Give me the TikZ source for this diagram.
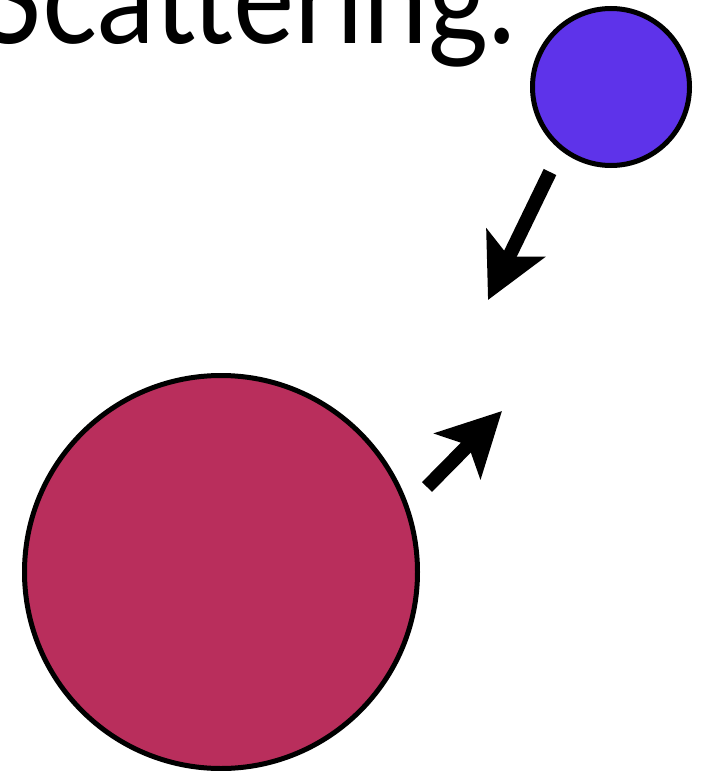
\documentclass[tikz,border=0pt]{standalone}
\usepackage{fontspec}
\setmainfont{Lato}
\usetikzlibrary{arrows.meta}
\definecolor{ballblue}{RGB}{94,51,234}
\definecolor{ballred}{RGB}{185,46,92}
\tikzset{
  ball/.style={circle, draw=black, line width=5pt, inner sep=0pt},
  bigarrow/.style={line width=14pt, -{Stealth[length=63pt, width=64pt, inset=15pt]}},
}
\begin{document}
\begin{tikzpicture}[x=1pt, y=-1pt]
  \useasboundingbox (0,0) rectangle (703,771);
  \clip (0,0) rectangle (703,771);
  \node[anchor=base east, inner sep=0pt, font=\fontsize{130}{130}\selectfont] (title) at (516,43) {\scalebox{0.89}[1]{Scattering.}};
  \node[ball, fill=ballblue, minimum size=157pt] (blue) at (611,87) {};
  \node[ball, fill=ballred, minimum size=393pt] (red) at (221,572) {};
  \coordinate (a1s) at (550,172);
  \coordinate (a1e) at (488,300);
  \coordinate (a2s) at (427,487);
  \coordinate (a2e) at (502,411);
  \draw[bigarrow] (a1s) -- (a1e);
  \draw[bigarrow] (a2s) -- (a2e);
\end{tikzpicture}
\end{document}
